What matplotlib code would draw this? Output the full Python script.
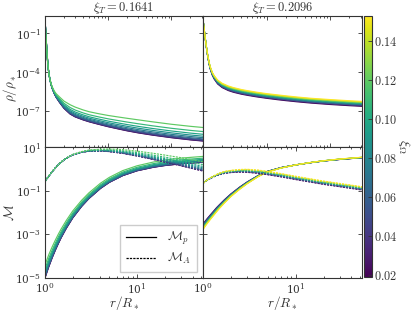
import numpy as np
import matplotlib
matplotlib.use("Agg")
import matplotlib.pyplot as plt
from matplotlib.ticker import LogLocator, NullLocator, NullFormatter, FixedLocator, FuncFormatter
from matplotlib.colors import Normalize
from matplotlib.cm import ScalarMappable
from matplotlib.lines import Line2D

plt.rcParams['mathtext.fontset'] = 'cm'
plt.rcParams['font.family'] = ['DejaVu Serif']

# ---------------- data ----------------
titles = [r"$\xi_T = 0.1641$", r"$\xi_T = 0.2096$"]

xi_left = [0.020, 0.031, 0.042, 0.053, 0.064, 0.075, 0.086, 0.097, 0.108, 0.120]
xi_right = [0.020, 0.035, 0.050, 0.065, 0.080, 0.095, 0.110, 0.125, 0.140, 0.153]
# relative position of each curve inside its band (0 = lowest xi, 1 = highest xi)
k_left = [0.0, 0.02, 0.05, 0.10, 0.16, 0.25, 0.36, 0.50, 0.70, 1.0]
k_right = [0.0, 0.11, 0.22, 0.33, 0.44, 0.56, 0.67, 0.78, 0.89, 1.0]

# density panels (log10 values)
r_top = [1.0, 1.02, 1.04, 1.06, 1.08, 1.1, 1.13, 1.16, 1.2, 1.25, 1.3, 1.4, 1.5,
         1.7, 2.0, 2.5, 3, 4, 5, 7, 10, 15, 20, 30, 50, 100, 200, 316]
logrho_left_low = [0.1, -0.63, -1.34, -2.02, -2.64, -3.17, -3.78, -4.21, -4.62, -4.99,
                   -5.26, -5.66, -5.95, -6.35, -6.81, -7.25, -7.47, -7.7, -7.85, -8.04,
                   -8.23, -8.42, -8.55, -8.71, -8.88, -9.08, -9.25, -9.34]
logrho_left_spread = [0, 0, 0, 0, 0, 0, 0, 0, 0.04, 0.08, 0.12, 0.2, 0.28, 0.42, 0.56,
                      0.72, 0.76, 0.77, 0.78, 0.82, 0.87, 0.93, 0.97, 1.01, 1.03, 1.04,
                      1.05, 1.05]
logrho_right_low = [0.1, -0.28, -0.64, -0.99, -1.32, -1.64, -2.08, -2.48, -2.94, -3.4,
                    -3.76, -4.24, -4.54, -4.92, -5.2, -5.43, -5.56, -5.71, -5.8, -5.92,
                    -6.03, -6.14, -6.21, -6.3, -6.4, -6.51, -6.6, -6.65]
logrho_right_spread = [0, 0, 0.01, 0.02, 0.03, 0.04, 0.06, 0.08, 0.11, 0.14, 0.17, 0.22,
                       0.26, 0.3, 0.33, 0.35, 0.36, 0.36, 0.36, 0.36, 0.36, 0.37, 0.37,
                       0.37, 0.37, 0.38, 0.38, 0.38]

# Mach number panels (log10 values)
r_bot = [1.0, 1.02, 1.05, 1.1, 1.2, 1.3, 1.4, 1.5, 1.7, 2.0, 2.5, 3, 4, 5, 7, 10, 15,
         20, 30, 52]
logMp_left_low = [-5.0, -4.89, -4.73, -4.48, -4.06, -3.71, -3.41, -3.15, -2.73, -2.25,
                  -1.72, -1.36, -0.9, -0.62, -0.31, -0.09, 0.07, 0.15, 0.23, 0.3]
logMp_left_spread = [0.6, 0.59, 0.57, 0.55, 0.5, 0.46, 0.43, 0.4, 0.36, 0.32, 0.28,
                     0.26, 0.24, 0.23, 0.23, 0.23, 0.24, 0.25, 0.26, 0.27]
logMA_left_low = [-0.58, -0.53, -0.45, -0.33, -0.12, 0.05, 0.19, 0.31, 0.48, 0.64,
                  0.76, 0.81, 0.82, 0.79, 0.71, 0.59, 0.43, 0.31, 0.14, -0.1]
logMA_left_spread = [0, 0, 0, 0, 0, 0, 0, 0.01, 0.01, 0.02, 0.03, 0.05, 0.08, 0.12,
                     0.17, 0.22, 0.28, 0.32, 0.37, 0.42]
logMp_right_low = [-2.53, -2.48, -2.41, -2.3, -2.11, -1.94, -1.78, -1.65, -1.42, -1.15,
                   -0.83, -0.6, -0.29, -0.11, 0.06, 0.18, 0.29, 0.36, 0.43, 0.51]
logMp_right_spread = [-0.25, -0.25, -0.24, -0.23, -0.21, -0.2, -0.19, -0.17, -0.15,
                      -0.12, -0.1, -0.08, -0.05, -0.03, -0.02, 0, 0.01, 0.01, 0.02, 0.02]
logMA_right_low = [-0.66, -0.63, -0.59, -0.53, -0.44, -0.37, -0.31, -0.27, -0.21, -0.17,
                   -0.15, -0.16, -0.21, -0.27, -0.37, -0.49, -0.62, -0.71, -0.82, -0.97]
logMA_right_spread = [0, 0, 0, 0.01, 0.03, 0.04, 0.05, 0.07, 0.09, 0.1, 0.12, 0.14,
                      0.15, 0.15, 0.15, 0.15, 0.15, 0.15, 0.15, 0.15]

cbar_ticks = [0.02, 0.04, 0.06, 0.08, 0.10, 0.12, 0.14]
xi_min, xi_max = 0.019, 0.153

# ---------------- figure ----------------
W, H = 415, 312
fig = plt.figure(figsize=(W / 100, H / 100), dpi=100)

def px_axes(x0, y0, x1, y1):
    return fig.add_axes([x0 / W, 1 - y1 / H, (x1 - x0) / W, (y1 - y0) / H])

ax_tl = px_axes(45, 16, 203, 147)
ax_tr = px_axes(203, 16, 362, 147)
ax_bl = px_axes(45, 147, 203, 278)
ax_br = px_axes(203, 147, 362, 278)
cax = px_axes(364, 16, 372, 277)

cmap = plt.get_cmap('viridis')
norm = Normalize(xi_min, xi_max)
fs_tick = 7.6
fs_title = 9
fs_lab = 9.4
gray = '#333333'
dash = (0, (1.8, 0.9))

def draw_band(ax, r, low, spread, xis, ks, ls):
    r = np.asarray(r)
    low = np.asarray(low)
    spread = np.asarray(spread)
    for xi, k in zip(xis, ks):
        ax.plot(r, 10 ** (low + k * spread), color=cmap(norm(xi)), lw=0.85, ls=ls)

draw_band(ax_tl, r_top, logrho_left_low, logrho_left_spread, xi_left, k_left, '-')
draw_band(ax_tr, r_top, logrho_right_low, logrho_right_spread, xi_right, k_right, '-')
draw_band(ax_bl, r_bot, logMp_left_low, logMp_left_spread, xi_left, k_left, '-')
draw_band(ax_bl, r_bot, logMA_left_low, logMA_left_spread, xi_left, k_left, dash)
draw_band(ax_br, r_bot, logMp_right_low, logMp_right_spread, xi_right, k_right, '-')
draw_band(ax_br, r_bot, logMA_right_low, logMA_right_spread, xi_right, k_right, dash)

for ax in (ax_tl, ax_tr, ax_bl, ax_br):
    ax.set_xscale('log')
    ax.set_yscale('log')
    ax.xaxis.set_minor_locator(LogLocator(base=10, subs=np.arange(2, 10)))
    ax.xaxis.set_minor_formatter(NullFormatter())
    ax.yaxis.set_minor_locator(NullLocator())
    ax.tick_params(which='both', direction='in', top=True, right=True,
                   colors=gray, labelsize=fs_tick, width=0.6)
    ax.tick_params(which='major', length=3.2)
    ax.tick_params(which='minor', length=1.7)
    ax.tick_params(axis='x', pad=2.6)
    ax.tick_params(axis='y', pad=2.8)
    for s in ax.spines.values():
        s.set_color(gray)
        s.set_linewidth(0.8)

for ax in (ax_tl, ax_tr):
    ax.set_xlim(1, 316)
    ax.set_ylim(10 ** -9.8, 10 ** 0.34)
    ax.yaxis.set_major_locator(FixedLocator([1e-1, 1e-4, 1e-7]))
    ax.tick_params(labelbottom=False)
for ax in (ax_bl, ax_br):
    ax.set_xlim(1, 52)
    ax.set_ylim(1e-5, 10)
    ax.yaxis.set_major_locator(FixedLocator([1e1, 1e-1, 1e-3, 1e-5]))
    ax.set_xlabel(r"$r/R_*$", fontsize=fs_lab + 0.2, color=gray)
    ax.xaxis.label.set_va('center')
    ax.xaxis.set_label_coords(0.5, -0.19)
for ax in (ax_tr, ax_br):
    ax.tick_params(labelleft=False)

ax_tl.set_title(titles[0], fontsize=fs_title, color=gray, pad=2.5)
ax_tr.set_title(titles[1], fontsize=fs_title, color=gray, pad=2.5)
ax_tl.set_ylabel(r"$\rho/\rho_*$", fontsize=fs_lab, color=gray)
ax_bl.set_ylabel(r"$\mathcal{M}$", fontsize=fs_lab, color=gray)
ax_tl.yaxis.label.set_va('center')
ax_tl.yaxis.set_label_coords(-0.222, 0.45)
ax_bl.yaxis.label.set_va('center')
ax_bl.yaxis.set_label_coords(-0.222, 0.5)

handles = [Line2D([], [], color='black', lw=0.9, ls='-'),
           Line2D([], [], color='black', lw=0.9, ls=dash)]
leg = ax_bl.legend(handles, [r"$\mathcal{M}_p$", r"$\mathcal{M}_A$"], loc='lower right',
                   fontsize=9, fancybox=False, framealpha=1, edgecolor='0.8',
                   handlelength=2.4, borderpad=0.45, labelspacing=0.3, handletextpad=0.9)
for t in leg.get_texts():
    t.set_color(gray)

sm = ScalarMappable(norm=norm, cmap=cmap)
cb = fig.colorbar(sm, cax=cax)
cb.set_ticks(cbar_ticks)
cb.ax.yaxis.set_major_formatter(FuncFormatter(lambda v, p: f"${v:.2f}$"))
cb.ax.tick_params(direction='in', length=3, width=0.6, colors=gray, labelsize=8.8, pad=1.5)
cb.outline.set_edgecolor(gray)
cb.outline.set_linewidth(0.8)
cb.set_label(r"$\xi_\Omega$", rotation=270, fontsize=10, color=gray)
cb.ax.yaxis.label.set_va('center')
cb.ax.yaxis.set_label_coords(5.0, 0.5)

fig.savefig("out.png", dpi=100)
